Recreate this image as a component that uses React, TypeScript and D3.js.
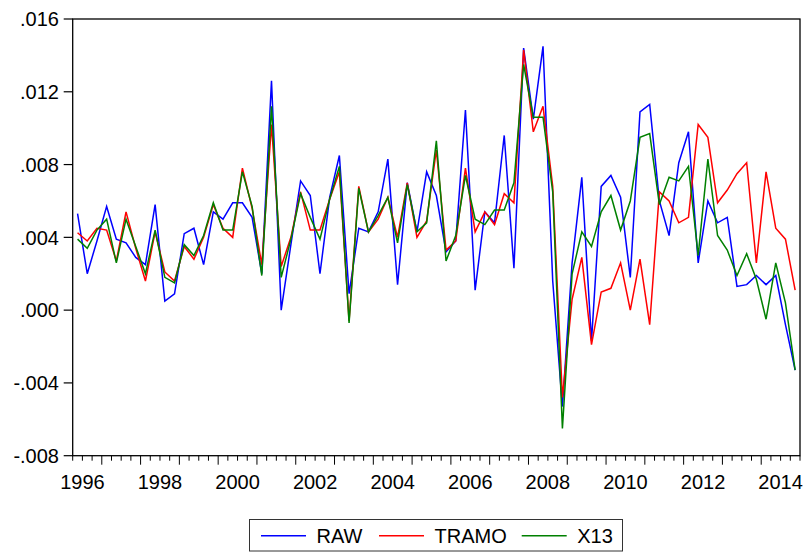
import React from "react";
import * as d3 from "d3";

const startYear = 1996;
const startQuarterOffset = 1; // first observation is 1996Q2
const yTicks = [-0.008, -0.004, 0, 0.004, 0.008, 0.012, 0.016];
const labelYears = [1996, 1998, 2000, 2002, 2004, 2006, 2008, 2010, 2012, 2014];

const raw = [0.0053, 0.0020, 0.0038, 0.0057, 0.0039, 0.0037, 0.0029, 0.0025, 0.0058, 0.0005,
  0.0009, 0.0042, 0.0045, 0.0025, 0.0054, 0.0050, 0.0059, 0.0059, 0.0051, 0.0020,
  0.0126, 0.0000, 0.0036, 0.0071, 0.0063, 0.0020, 0.0062, 0.0085, 0.0009, 0.0045,
  0.0043, 0.0054, 0.0083, 0.0014, 0.0070, 0.0043, 0.0076, 0.0063, 0.0032, 0.0038,
  0.0110, 0.0011, 0.0054, 0.0048, 0.0096, 0.0023, 0.0144, 0.0105, 0.0145, 0.0016,
  -0.0053, 0.0026, 0.0073, -0.0017, 0.0068, 0.0074, 0.0062, 0.0018, 0.0109, 0.0113,
  0.0060, 0.0041, 0.0081, 0.0098, 0.0026, 0.0060, 0.0048, 0.0051, 0.0013, 0.0014,
  0.0019, 0.0014, 0.0019, -0.0008, -0.0033];

const tramo = [0.00425, 0.0038, 0.0045, 0.0044, 0.0027, 0.0054, 0.0034, 0.0016, 0.0043, 0.0021,
  0.0016, 0.0035, 0.0028, 0.0040, 0.0058, 0.0045, 0.0040, 0.0078, 0.0056, 0.0025,
  0.0102, 0.0024, 0.0040, 0.0065, 0.0044, 0.0044, 0.0061, 0.0076, -0.0006, 0.0068,
  0.0043, 0.0050, 0.0062, 0.0040, 0.0070, 0.0040, 0.0049, 0.0088, 0.0033, 0.0038,
  0.0078, 0.0043, 0.0054, 0.0047, 0.0064, 0.0059, 0.0143, 0.0098, 0.0112, 0.0068,
  -0.0048, 0.0006, 0.0029, -0.0019, 0.0010, 0.0012, 0.0026, 0.0000, 0.0028, -0.0008,
  0.0065, 0.0060, 0.0048, 0.0051, 0.0102, 0.0095, 0.0059, 0.0066, 0.0075, 0.0081,
  0.0026, 0.0076, 0.0045, 0.0039, 0.0011];

const x13 = [0.0039, 0.0034, 0.0044, 0.0050, 0.0026, 0.0050, 0.0035, 0.0020, 0.0044, 0.0018,
  0.0015, 0.0036, 0.0030, 0.0041, 0.0059, 0.0044, 0.0044, 0.0076, 0.0057, 0.0019,
  0.0112, 0.0018, 0.0039, 0.0064, 0.0051, 0.0039, 0.0061, 0.0079, -0.0007, 0.0067,
  0.0043, 0.0052, 0.0062, 0.0037, 0.0069, 0.0043, 0.0048, 0.0093, 0.0027, 0.0041,
  0.0074, 0.0050, 0.0047, 0.0055, 0.0055, 0.0070, 0.0135, 0.0106, 0.0106, 0.0065,
  -0.0065, 0.0020, 0.0043, 0.0035, 0.0054, 0.0063, 0.0044, 0.0060, 0.0095, 0.0097,
  0.0058, 0.0073, 0.0071, 0.0079, 0.0030, 0.0083, 0.0041, 0.0033, 0.0019, 0.0031,
  0.0017, -0.0005, 0.0026, 0.0004, -0.0033];

const seriesNames = ["RAW", "TRAMO", "X13"];
const seriesColors = ["#0000FF", "#FF0000", "#008000"];
const seriesData = [raw, tramo, x13];

const W = 806, H = 552;
const L = 72.7, R = 800, T = 19, B = 455.7;
const FONT = "'Liberation Sans', Arial, sans-serif";

export default function App() {
  const n = raw.length;
  const x = d3.scaleLinear().domain([-0.5, n - 0.5]).range([L, R]);
  const y = d3.scaleLinear().domain([-0.008, 0.016]).range([B, T]);
  const line = d3.line<number>().x((_, i) => x(i)).y((d) => y(d));
  const fmt = (v: number) => {
    const s = v.toFixed(3);
    return s.replace(/^(-?)0\./, "$1.");
  };
  // quarter boundaries
  const boundaries = d3.range(0, n).map((i) => i - 0.5);
  const isYearStart = (i: number) => (i + startQuarterOffset) % 4 === 0;
  const yearStartIdx = (yr: number) => (yr - startYear) * 4 - startQuarterOffset;

  return (
    <svg width={W} height={H} style={{ position: "absolute", left: 0, top: 0, background: "#fff" }}
      fontFamily={FONT}>
      <rect x={0} y={0} width={W} height={H} fill="#fff" />
      {seriesData.map((d, k) => (
        <path key={k} d={line(d) || ""} fill="none" stroke={seriesColors[k]} strokeWidth={1.5}
          strokeLinejoin="miter" />
      ))}
      <rect x={L} y={T} width={R - L} height={B - T} fill="none" stroke="#000" strokeWidth={1.3} />
      {yTicks.map((t) => (
        <g key={t}>
          <line x1={L - 9} x2={L} y1={y(t)} y2={y(t)} stroke="#000" strokeWidth={1.2} />
          <text x={59} y={y(t)} dy="0.36em" textAnchor="end" fontSize={20} fill="#000">{fmt(t)}</text>
        </g>
      ))}
      {boundaries.map((b, i) => (
        <line key={i} x1={x(b)} x2={x(b)} y1={B} y2={B + (isYearStart(i) ? 9 : 5)} stroke="#000" strokeWidth={1} />
      ))}
      <line x1={R} x2={R} y1={B} y2={B + 5} stroke="#000" strokeWidth={1} />
      {labelYears.map((yr) => (
        <text key={yr} x={x(yearStartIdx(yr) + 1.5)} y={489} textAnchor="middle" fontSize={20} fill="#000">{yr}</text>
      ))}
      <rect x={249.5} y={519.5} width={373} height={31.5} fill="#fff" stroke="#333" strokeWidth={1} />
      {seriesNames.map((nm, k) => {
        const xs = [261, 379, 521.7][k];
        return (
          <g key={nm}>
            <line x1={xs} x2={xs + 45} y1={535.7} y2={535.7} stroke={seriesColors[k]} strokeWidth={1.5} />
            <text x={xs + 55.5} y={542.8} fontSize={20} fill="#000">{nm}</text>
          </g>
        );
      })}
    </svg>
  );
}
